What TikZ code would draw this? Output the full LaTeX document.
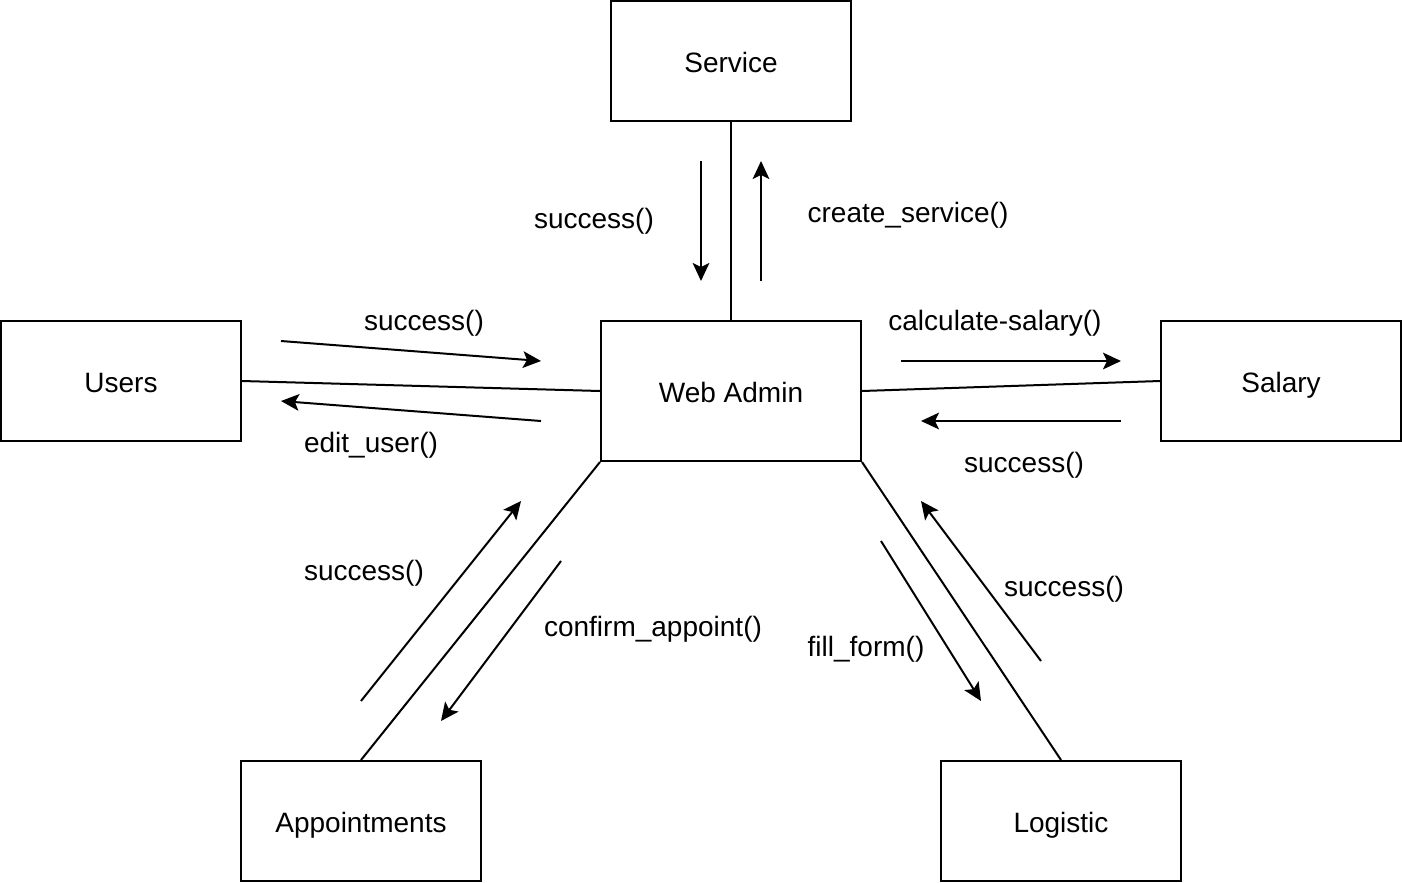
\documentclass[tikz,border=0pt]{standalone}
\usepackage{fontspec}
\setmainfont{Liberation Sans}
\usetikzlibrary{arrows.meta}
\begin{document}
\begin{tikzpicture}[x=0.75pt,y=-0.75pt,
  box/.style={draw,line width=1.5pt,minimum width=180pt,minimum height=90pt,inner sep=0pt,text height=20pt,text depth=3.5pt,font=\fontsize{21}{25}\selectfont},
  wabox/.style={box,minimum width=195pt,minimum height=105pt},
  conn/.style={line width=1.5pt},
  msg/.style={line width=1.5pt,-{Stealth[length=13.5pt,width=12.5pt,inset=3pt]}},
  lbl/.style={font=\fontsize{21}{25}\selectfont,inner sep=0pt}]
\useasboundingbox (0,0) rectangle (1402,882);
\node[box] (service) at (731,61) {Service};
\node[wabox] (web) at (731,391) {Web Admin};
\node[box] (users) at (121,381) {Users};
\node[box] (salary) at (1281,381) {Salary};
\node[box] (appt) at (361,821) {Appointments};
\node[box] (logi) at (1061,821) {Logistic};
% connectors
\draw[conn] (service.south) -- (web.north);
\draw[conn] (users.east) -- (web.west);
\draw[conn] (web.east) -- (salary.west);
\draw[conn] (web.south west) -- (appt.north);
\draw[conn] (web.south east) -- (logi.north);
% message arrows
\coordinate (a1s) at (701,161); \coordinate (a1e) at (701,281);
\coordinate (a2s) at (761,281); \coordinate (a2e) at (761,161);
\coordinate (a3s) at (281,341); \coordinate (a3e) at (541,361);
\coordinate (a4s) at (541,421); \coordinate (a4e) at (281,401);
\coordinate (a5s) at (901,361); \coordinate (a5e) at (1121,361);
\coordinate (a6s) at (1121,421); \coordinate (a6e) at (921,421);
\coordinate (a7s) at (361,701); \coordinate (a7e) at (521,501);
\coordinate (a8s) at (561,561); \coordinate (a8e) at (441,721);
\coordinate (a9s) at (881,541); \coordinate (a9e) at (981,701);
\coordinate (a10s) at (1041,661); \coordinate (a10e) at (921,501);
\draw[msg] (a1s) -- (a1e);
\draw[msg] (a2s) -- (a2e);
\draw[msg] (a3s) -- (a3e);
\draw[msg] (a4s) -- (a4e);
\draw[msg] (a5s) -- (a5e);
\draw[msg] (a6s) -- (a6e);
\draw[msg] (a7s) -- (a7e);
\draw[msg] (a8s) -- (a8e);
\draw[msg] (a9s) -- (a9e);
\draw[msg] (a10s) -- (a10e);
% labels
\node[lbl] (l1) at (594,221) {success()};
\node[lbl] (l2) at (908,215) {create\_service()};
\node[lbl] (l3) at (424,323) {success()};
\node[lbl] (l4) at (371,445) {edit\_user()};
\node[lbl] (l5) at (995,323) {calculate-salary()};
\node[lbl] (l6) at (1024,465) {success()};
\node[lbl] (l7) at (364,573) {success()};
\node[lbl] (l8) at (653,629) {confirm\_appoint()};
\node[lbl] (l9) at (866,649) {fill\_form()};
\node[lbl] (l10) at (1064,589) {success()};
\end{tikzpicture}
\end{document}
